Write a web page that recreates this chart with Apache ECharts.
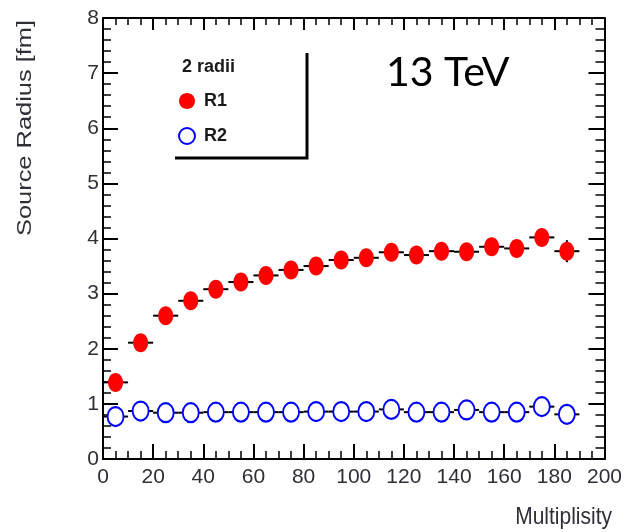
<!DOCTYPE html>
<html>
<head>
<meta charset="utf-8">
<script src="https://cdn.jsdelivr.net/npm/echarts@6/dist/echarts.min.js"></script>
<style>
  html, body { margin: 0; padding: 0; background: #fff; }
  #chart { width: 625px; height: 532px; }
</style>
</head>
<body>
<div id="chart"></div>
<script>
// Multiplicity bin centres and fitted source radii (fm)
const multiplicity = [5, 15, 25, 35, 45, 55, 65, 75, 85, 95, 105, 115, 125, 135, 145, 155, 165, 175, 185];
const r1 = [1.39, 2.11, 2.60, 2.87, 3.08, 3.21, 3.33, 3.43, 3.50, 3.61, 3.65, 3.75, 3.70, 3.77, 3.76, 3.85, 3.82, 4.02, 3.77];
const r1Err = [0.05, 0.05, 0.05, 0.05, 0.05, 0.05, 0.05, 0.05, 0.05, 0.05, 0.05, 0.05, 0.05, 0.05, 0.05, 0.05, 0.05, 0.08, 0.20];
const r2 = [0.77, 0.87, 0.84, 0.84, 0.85, 0.85, 0.85, 0.85, 0.86, 0.86, 0.86, 0.90, 0.85, 0.85, 0.89, 0.85, 0.85, 0.95, 0.81];
const r2Err = [0.03, 0.03, 0.03, 0.03, 0.03, 0.03, 0.03, 0.03, 0.03, 0.03, 0.03, 0.03, 0.03, 0.03, 0.03, 0.03, 0.03, 0.04, 0.04];
const binHalfWidth = 5;
const xTicks = { min: 0, max: 200, step: 20 };
const yTicks = { min: 0, max: 8, step: 1 };

// Ellipse drawn with cubic curves so the marker can be stretched to any box
const ellipse = 'path://M0,-1C0.5523,-1 1,-0.5523 1,0C1,0.5523 0.5523,1 0,1C-0.5523,1 -1,0.5523 -1,0C-1,-0.5523 -0.5523,-1 0,-1Z';

const labelFont = 'Liberation Sans, Arial, sans-serif';
const ink = '#2e3038';

function errorBars(values, errs) {
  return multiplicity.map((m, i) => [m, values[i], errs[i]]);
}

function renderErrorBar(params, api) {
  const x = api.value(0), y = api.value(1), e = api.value(2);
  const l = api.coord([x - binHalfWidth, y]);
  const r = api.coord([x + binHalfWidth, y]);
  const t = api.coord([x, y + e]);
  const b = api.coord([x, y - e]);
  const st = { stroke: '#000', lineWidth: 2 };
  return {
    type: 'group',
    children: [
      { type: 'line', shape: { x1: l[0], y1: l[1], x2: r[0], y2: r[1] }, style: st },
      { type: 'line', shape: { x1: t[0], y1: t[1], x2: b[0], y2: b[1] }, style: st }
    ]
  };
}

function frameAxis(extra) {
  return Object.assign({
    type: 'value',
    axisLine: { show: true, onZero: false, lineStyle: { color: '#000', width: 2 } },
    axisTick: { show: true, inside: true, length: 15, lineStyle: { color: '#000', width: 2 } },
    minorTick: { show: true, length: 8, lineStyle: { color: '#000', width: 1.5 } },
    splitLine: { show: false },
    minorSplitLine: { show: false }
  }, extra);
}

const chart = echarts.init(document.getElementById('chart'), null, { renderer: 'canvas' });

chart.setOption({
  animation: false,
  backgroundColor: '#fff',
  grid: { left: 103, right: 13, top: 18, bottom: 73 },
  title: [{
    text: '2 radii',
    left: 182, top: 58, padding: 0,
    textStyle: { fontFamily: labelFont, fontWeight: 'bold', fontSize: 18, color: '#1a1a1a' }
  }],
  legend: {
    orient: 'vertical',
    left: 178, top: 92,
    padding: 0,
    itemWidth: 16, itemHeight: 19,
    itemGap: 17,
    selectedMode: false,
    textStyle: { fontFamily: labelFont, fontWeight: 'bold', fontSize: 18, color: '#1a1a1a', padding: [0, 0, 0, 4] },
    data: [
      { name: 'R1', icon: ellipse, itemStyle: { color: '#ff0000', borderWidth: 0 } },
      { name: 'R2', icon: ellipse, itemStyle: { color: '#ffffff', borderColor: '#0000ff', borderWidth: 2 } }
    ]
  },
  xAxis: [
    frameAxis({
      min: xTicks.min, max: xTicks.max, interval: xTicks.step, position: 'bottom',
      minorTick: { show: true, splitNumber: 4, length: 8, lineStyle: { color: '#000', width: 1.5 } },
      axisLabel: { fontFamily: labelFont, fontSize: 21, color: ink, margin: 8 }
    }),
    frameAxis({
      min: xTicks.min, max: xTicks.max, interval: xTicks.step, position: 'top',
      axisTick: { show: true, inside: true, length: 12, lineStyle: { color: '#000', width: 2 } },
      minorTick: { show: true, splitNumber: 4, length: 7, lineStyle: { color: '#000', width: 1.5 } },
      axisLabel: { show: false }
    })
  ],
  yAxis: [
    frameAxis({
      min: yTicks.min, max: yTicks.max, interval: yTicks.step, position: 'left',
      minorTick: { show: true, splitNumber: 5, length: 8, lineStyle: { color: '#000', width: 1.5 } },
      axisLabel: { fontFamily: labelFont, fontSize: 21, color: ink, margin: 4 }
    }),
    frameAxis({
      min: yTicks.min, max: yTicks.max, interval: yTicks.step, position: 'right',
      axisTick: { show: true, inside: true, length: 16, lineStyle: { color: '#000', width: 2 } },
      minorTick: { show: true, splitNumber: 5, length: 9, lineStyle: { color: '#000', width: 1.5 } },
      axisLabel: { show: false }
    })
  ],
  graphic: [
    // legend frame: right and bottom edges only
    { type: 'polyline', shape: { points: [[307, 53], [307, 158], [175, 158]] },
      style: { stroke: '#000', lineWidth: 3, fill: null }, z: 10 },
    { type: 'text', x: 386, y: 73,
      style: { text: '13 TeV', font: '41px Lato, "Open Sans", sans-serif', fill: '#000',
               textAlign: 'left', textVerticalAlign: 'middle', align: 'left', verticalAlign: 'middle' }, z: 10 },
    { type: 'text', x: 25, y: 128, rotation: Math.PI / 2, scaleX: 1.21, scaleY: 1,
      style: { text: 'Source Radius [fm]', font: '21px ' + labelFont, fill: ink,
               textAlign: 'center', textVerticalAlign: 'middle', align: 'center', verticalAlign: 'middle' }, z: 10 },
    { type: 'text', x: 612, y: 518, scaleX: 1, scaleY: 1.12,
      style: { text: 'Multiplisity', font: '21px ' + labelFont, fill: ink,
               textAlign: 'right', textVerticalAlign: 'middle', align: 'right', verticalAlign: 'middle' }, z: 10 }
  ],
  series: [
    {
      name: 'R1 errors', type: 'custom', xAxisIndex: 0, yAxisIndex: 0, z: 2,
      renderItem: renderErrorBar, data: errorBars(r1, r1Err), silent: true
    },
    {
      name: 'R2 errors', type: 'custom', xAxisIndex: 0, yAxisIndex: 0, z: 2,
      renderItem: renderErrorBar, data: errorBars(r2, r2Err), silent: true
    },
    {
      name: 'R1', type: 'scatter', xAxisIndex: 0, yAxisIndex: 0, z: 5,
      symbol: ellipse, symbolSize: [15, 19],
      itemStyle: { color: '#ff0000', opacity: 1 },
      data: multiplicity.map((m, i) => [m, r1[i]])
    },
    {
      name: 'R2', type: 'scatter', xAxisIndex: 0, yAxisIndex: 0, z: 5,
      symbol: ellipse, symbolSize: [16, 19],
      itemStyle: { color: '#ffffff', borderColor: '#0000ff', borderWidth: 2, opacity: 1 },
      data: multiplicity.map((m, i) => [m, r2[i]])
    }
  ]
});
</script>
</body>
</html>
